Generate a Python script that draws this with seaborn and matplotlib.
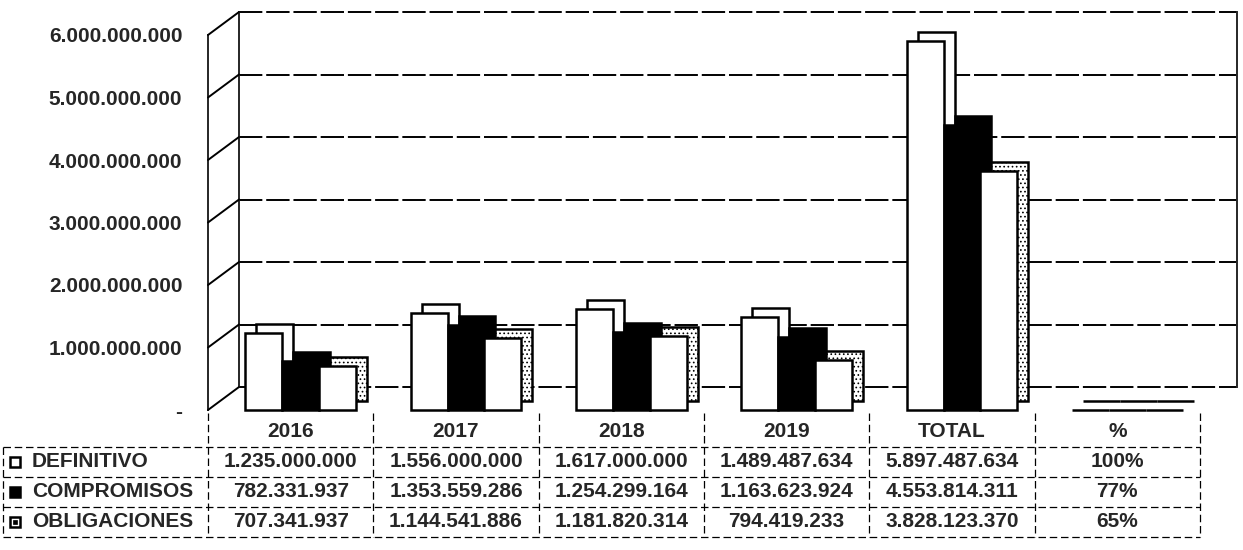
import numpy as np
import pandas as pd
import matplotlib
matplotlib.use("Agg")
import matplotlib.pyplot as plt
import matplotlib.transforms as mtransforms
import seaborn as sns

categorias = ["2016", "2017", "2018", "2019", "TOTAL", "%"]
series = ["DEFINITIVO", "COMPROMISOS", "OBLIGACIONES"]
definitivo = [1235000000, 1556000000, 1617000000, 1489487634, 5897487634]
compromisos = [782331937, 1353559286, 1254299164, 1163623924, 4553814311]
obligaciones = [707341937, 1144541886, 1181820314, 794419233, 3828123370]
porcentaje = [1.00, 0.77, 0.65]
colores = {"DEFINITIVO": "white", "COMPROMISOS": "black", "OBLIGACIONES": "white"}

filas = []
for serie, valores, pct in zip(series, [definitivo, compromisos, obligaciones], porcentaje):
    for cat, v in zip(categorias, valores + [pct]):
        filas.append({"categoria": cat, "serie": serie, "valor": v})
df = pd.DataFrame(filas)


def miles(v):
    return "-" if v == 0 else f"{v:,.0f}".replace(",", ".")


sns.set_style("white")
plt.rcParams["font.family"] = ["Liberation Sans", "DejaVu Sans"]
plt.rcParams["font.weight"] = "bold"
plt.rcParams["hatch.linewidth"] = 0.7

W, H = 1243, 550
fig = plt.figure(figsize=(W / 100, H / 100), dpi=100)


def caja(x0, y0, x1, y1):
    # caja en pixeles (origen arriba-izquierda) -> fraccion de figura
    return [x0 / W, 1 - y1 / H, (x1 - x0) / W, (y1 - y0) / H]


ticks = np.arange(0, 6.1e9, 1e9)
linea = dict(color="black", lw=1.4, ls=(0, (12, 2)))

# pared del fondo
ax_back = fig.add_axes(caja(239, 12, 1237, 387))
ax_back.set_ylim(0, 6e9)
ax_back.set_xticks([])
ax_back.set_yticks([])
for t in ticks:
    ax_back.axhline(t, clip_on=False, **linea)
for s in ["top", "bottom"]:
    ax_back.spines[s].set_visible(False)
for s in ["left", "right"]:
    ax_back.spines[s].set_linewidth(1.4)
ax_back.patch.set_alpha(0)

# plano frontal con las barras
ax = fig.add_axes(caja(208, 35, 1200, 410))
ax.patch.set_alpha(0)

opts = dict(data=df, x="categoria", y="valor", hue="serie", order=categorias,
            hue_order=series, palette=colores, width=0.67, gap=0,
            edgecolor="black", linewidth=1.8, saturation=1, legend=False, ax=ax)

# cara trasera (profundidad 3D)
sns.barplot(**opts)
fondo = ax.transData + mtransforms.ScaledTranslation(0.21, 0.09, fig.dpi_scale_trans)
for cont in ax.containers:
    for bar in cont:
        bar.set_transform(fondo)
        bar.set_clip_on(False)
for bar in ax.containers[2]:
    bar.set_hatch("....")
n = len(ax.containers)

# cara frontal
sns.barplot(**opts)
frente = ax.transData + mtransforms.ScaledTranslation(0.10, 0, fig.dpi_scale_trans)
for cont in ax.containers[n:]:
    for bar in cont:
        bar.set_transform(frente)
        bar.set_clip_on(False)

ax.set_xlim(-0.5, 5.5)
ax.set_ylim(0, 6e9)
ax.set_yticks(ticks)
ax.set_yticklabels([miles(t) for t in ticks], fontsize=15, fontweight="bold")
ax.set_xticks([])
ax.set_xlabel("")
ax.set_ylabel("")
ax.tick_params(axis="y", length=0, pad=18.5)
for s in ["top", "right", "bottom"]:
    ax.spines[s].set_visible(False)
ax.spines["left"].set_linewidth(1.4)

# pared izquierda: diagonales
inv = fig.transFigure.inverted()
for t in ticks:
    p0 = inv.transform(ax.transAxes.transform((0, t / 6e9)))
    p1 = inv.transform(ax_back.transAxes.transform((0, t / 6e9)))
    fig.add_artist(plt.Line2D([p0[0], p1[0]], [p0[1], p1[1]], color="black",
                              lw=1.4, transform=fig.transFigure))

# tabla de datos
col_w = (1200 - 208) / 6
x_izq = -0.5 - (208 - 3) / col_w
ax_tab = fig.add_axes(caja(3, 413, 1200, 537))
ax_tab.set_xlim(x_izq, 5.5)
ax_tab.set_ylim(3.5, -0.63)
ax_tab.axis("off")

tabla = dict(color="black", lw=0.9, ls=(0, (6, 3)), clip_on=False)
for r in [0.5, 1.5, 2.5, 3.5]:
    ax_tab.plot([x_izq, 5.5], [r, r], **tabla)
for c in np.arange(-0.5, 5.6, 1):
    ax_tab.plot([c, c], [-0.63, 3.5], **tabla)
ax_tab.plot([x_izq, x_izq], [0.5, 3.5], **tabla)

for i, cat in enumerate(categorias):
    ax_tab.text(i, 0, cat, ha="center", va="center", fontsize=15)

for r, (serie, valores, pct) in enumerate(
        zip(series, [definitivo, compromisos, obligaciones], porcentaje), start=1):
    kx = x_izq + 12 / col_w
    ax_tab.plot(kx, r, marker="s", ms=7.5, mfc=colores[serie], mec="black",
                mew=1.8, clip_on=False)
    if serie == "OBLIGACIONES":
        ax_tab.plot(kx, r, marker="s", ms=2.5, mfc="black", mec="black",
                    mew=0.5, clip_on=False)
    ax_tab.text(x_izq + 29 / col_w, r, serie, ha="left", va="center", fontsize=15)
    for i, v in enumerate(valores):
        ax_tab.text(i, r, miles(v), ha="center", va="center", fontsize=15)
    ax_tab.text(5, r, f"{pct:.0%}", ha="center", va="center", fontsize=15)

fig.savefig("out.png", dpi=100, facecolor="white")
plt.close()
